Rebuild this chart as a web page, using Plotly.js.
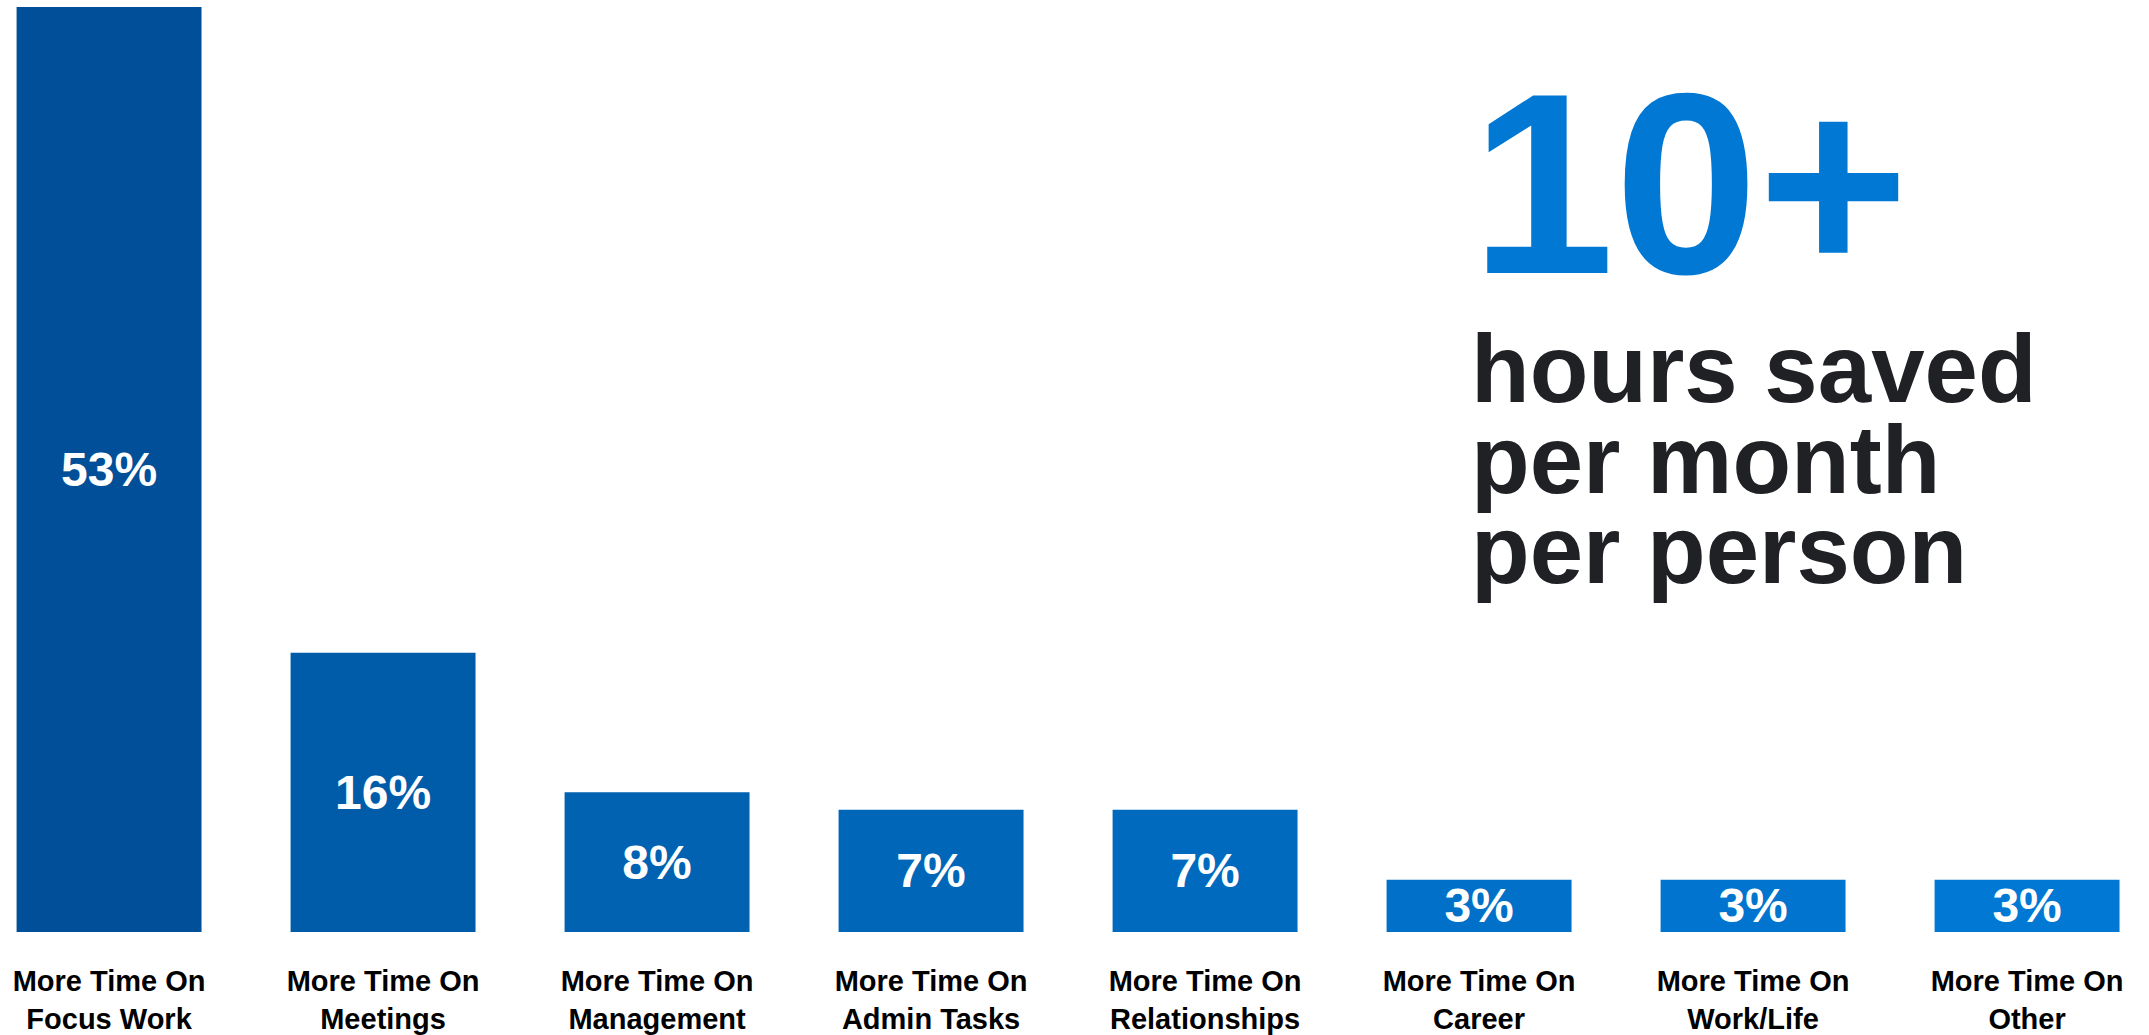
<!DOCTYPE html>
<html>
<head>
<meta charset="utf-8">
<script src="https://cdn.plot.ly/plotly-3.0.1.min.js"></script>
<style>
html,body{margin:0;padding:0;background:#fff;}
#chart{width:2149px;height:1035px;}
</style>
</head>
<body>
<div id="chart"></div>
<script>
const categories = [
  "More Time On<br>Focus Work",
  "More Time On<br>Meetings",
  "More Time On<br>Management",
  "More Time On<br>Admin Tasks",
  "More Time On<br>Relationships",
  "More Time On<br>Career",
  "More Time On<br>Work/Life",
  "More Time On<br>Other"
];
const shares = [53, 16, 8, 7, 7, 3, 3, 3];
const barColors = ["#004F98", "#005CA9", "#0062B1", "#0066B8", "#006ABF", "#0070C8", "#0074CE", "#0078D4"];
const headline = "10+";
const subLines = ["hours saved", "per month", "per person"];

const FONT = "'Liberation Sans', Arial, sans-serif";

const trace = {
  type: "bar",
  x: categories,
  y: shares,
  marker: { color: barColors, line: { width: 0 } },
  texttemplate: "%{y}%",
  textposition: "inside",
  insidetextanchor: "middle",
  textangle: 0,
  constraintext: "none",
  insidetextfont: { family: FONT, size: 48, color: "#ffffff", weight: "bold" },
  hoverinfo: "skip",
  cliponaxis: false
};

const annotations = [
  {
    text: headline, xref: "paper", yref: "paper", x: 1469 / 2149, y: 1 - 183 / 932,
    xanchor: "left", yanchor: "middle", showarrow: false,
    font: { family: FONT, size: 258, color: "#0078D4", weight: "bold" }
  }
];
const baselines = [402, 493, 583];
subLines.forEach((t, i) => {
  annotations.push({
    text: t, xref: "paper", yref: "paper", x: 1469 / 2149, y: 1 - (baselines[i] - 34) / 932,
    xanchor: "left", yanchor: "middle", showarrow: false,
    font: { family: FONT, size: 96, color: "#202125", weight: "bold" }
  });
});

const layout = {
  width: 2149, height: 1035,
  margin: { l: 0, r: 0, t: 0, b: 103, pad: 0 },
  paper_bgcolor: "#ffffff", plot_bgcolor: "#ffffff",
  showlegend: false,
  bargap: 0.325,
  xaxis: {
    type: "category",
    range: [-0.398, 7.445],
    showgrid: false, zeroline: false, showline: false, ticks: "",
    tickfont: { family: FONT, size: 29, color: "#000000", weight: "bold" },
    ticklabelstandoff: 29,
    fixedrange: true
  },
  yaxis: {
    range: [0, 53.4],
    showgrid: false, zeroline: false, showline: false, showticklabels: false, ticks: "",
    fixedrange: true
  },
  annotations: annotations
};

Plotly.newPlot("chart", [trace], layout, { displayModeBar: false, staticPlot: true });
</script>
</body>
</html>
